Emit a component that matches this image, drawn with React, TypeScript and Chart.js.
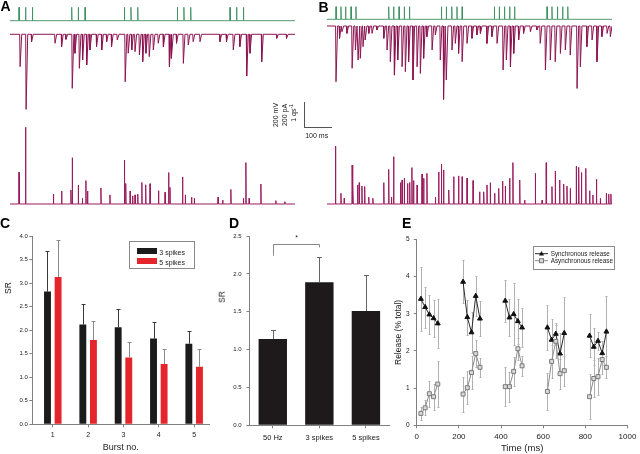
import React, { useEffect, useRef } from 'react';
import { Chart, registerables } from 'chart.js';
Chart.register(...registerables);

const FONT = "'Liberation Sans', Arial, Helvetica, sans-serif";
const AXIS = '#808080';
const TEXT = '#1a1a1a';
const GREEN = '#3f9162';
const PURPLE = '#8c1552';
const PINK = '#9a1b5e';

// ---------- Panels A / B : traces (time in ms, 0..TRACE_END) ----------
const TRACE_END = 1044;

const A_AP_TIMES = [33, 57, 82, 226, 250, 275, 419, 443, 468, 613, 637, 662, 806, 830, 855];
const A_AP_PEAK_MV = 103;
const A_EPSC_TIMES = [37, 59, 79, 165, 189, 205, 228, 238, 254, 266, 281, 293, 317, 336, 354, 372, 393, 422, 433, 446, 458, 474, 486, 498, 510, 525, 543, 562, 584, 592, 610, 635, 653, 671, 696, 769, 793, 818, 842, 867, 879, 922, 977, 1013];
const A_EPSC_PA = [-249, -578, -57, -69, -95, -39, -416, -146, -262, -198, -236, -121, -95, -121, -57, -95, -44, -365, -146, -121, -134, -159, -211, -146, -172, -121, -69, -95, -249, -185, -69, -224, -82, -57, -57, -57, -57, -121, -95, -321, -146, -211, -31, -31];
const A_RATE_TIMES = [33, 57, 159, 189, 223, 228, 250, 265, 278, 284, 333, 366, 419, 424, 440, 449, 458, 468, 483, 497, 513, 544, 568, 581, 586, 632, 642, 665, 675, 762, 779, 809, 855, 864, 876, 919, 974, 1007];
const A_RATE_QS = [1.22, 2.95, 0.38, 0.5, 0.54, 1.78, 0.73, 0.22, 0.9, 0.5, 0.62, 0.35, 1.69, 0.79, 0.5, 0.31, 0.35, 0.38, 0.83, 0.74, 0.78, 0.51, 0.45, 1.21, 0.64, 1.04, 0.35, 0.26, 0.22, 0.26, 0.15, 0.56, 0.22, 1.59, 0.22, 0.77, 0.13, 0.09];

const B_AP_TIMES = [33, 51, 68, 88, 106, 226, 244, 264, 283, 302, 419, 437, 457, 476, 495, 613, 631, 650, 669, 687, 806, 824, 844, 863, 882];
const B_AP_PEAK_MV = 97;
const B_EPSC_TIMES = [33, 46, 55, 73, 92, 104, 114, 122, 132, 140, 153, 165, 183, 208, 220, 232, 247, 259, 275, 287, 299, 315, 330, 342, 354, 366, 385, 397, 415, 427, 437, 458, 470, 482, 495, 513, 531, 549, 562, 586, 604, 623, 645, 657, 672, 684, 702, 720, 745, 769, 781, 800, 818, 836, 855, 873, 891, 916, 928, 952, 971, 989, 1007, 1026, 1038];
const B_EPSC_PA = [-429, -95, -44, -57, -326, -185, -262, -249, -159, -108, -57, -57, -31, -95, -185, -275, -378, -262, -314, -352, -275, -416, -314, -365, -249, -82, -185, -69, -262, -565, -416, -185, -134, -211, -275, -134, -95, -69, -57, -134, -82, -134, -339, -262, -314, -211, -108, -57, -44, -31, -134, -339, -262, -275, -211, -185, -224, -481, -314, -159, -108, -275, -82, -57, -82];
const B_RATE_TIMES = [31, 51, 63, 92, 95, 112, 118, 128, 138, 153, 168, 208, 226, 236, 244, 269, 275, 283, 295, 303, 311, 317, 330, 348, 354, 366, 397, 409, 419, 427, 446, 464, 482, 495, 513, 535, 559, 574, 586, 598, 614, 629, 643, 653, 669, 681, 706, 724, 763, 788, 803, 824, 836, 852, 867, 879, 891, 913, 922, 932, 948, 962, 974, 987, 1001, 1023, 1032, 1040];
const B_RATE_QS = [2.23, 0.41, 0.22, 1.5, 0.79, 0.73, 0.82, 0.69, 0.67, 0.26, 0.22, 0.82, 1.33, 0.26, 1.82, 0.82, 0.92, 0.99, 0.79, 0.83, 1.4, 0.9, 0.73, 1.15, 0.99, 1.18, 0.26, 1.23, 1.53, 1.31, 0.54, 1.05, 1.08, 1.05, 0.99, 0.9, 0.47, 0.47, 0.73, 0.82, 0.41, 0.6, 0.88, 0.69, 0.99, 1.59, 0.92, 0.15, 1.18, 0.15, 1.59, 0.67, 1.27, 0.92, 0.77, 0.69, 0.6, 1.46, 1.41, 1.21, 1.37, 0.51, 0.35, 0.95, 0.22, 0.41, 0.38, 0.38];

// ---------- Panel C ----------
const C_BURSTS = [1, 2, 3, 4, 5];
const C_SR_3 = [2.82, 2.12, 2.06, 1.82, 1.71];
const C_SR_3_ERR = [0.86, 0.43, 0.38, 0.36, 0.27];
const C_SR_5 = [3.13, 1.79, 1.42, 1.28, 1.22];
const C_SR_5_ERR = [0.79, 0.41, 0.33, 0.32, 0.37];

// ---------- Panel D ----------
const D_LABELS = ['50 Hz', '3 spikes', '5 spikes'];
const D_SR = [1.14, 1.89, 1.51];
const D_SR_ERR = [0.12, 0.33, 0.48];

// ---------- Panel E ----------
const E_BURST_LEN = 5;
const E_TIME = [20, 40, 60, 80, 100, 220, 240, 260, 280, 300, 420, 440, 460, 480, 500, 620, 640, 660, 680, 700, 820, 840, 860, 880, 900];
const E_SYNC = [3.4, 3.18, 2.98, 2.88, 2.74, 3.86, 2.91, 2.5, 3.48, 2.87, 3.35, 2.9, 2.99, 2.8, 2.63, 2.63, 2.3, 2.46, 1.93, 2.48, 2.41, 2.11, 2.27, 1.94, 2.52];
const E_SYNC_SEM = [0.85, 0.55, 0.52, 0.5, 0.67, 0.58, 0.47, 0.56, 0.55, 0.47, 0.56, 0.5, 0.83, 0.6, 0.53, 0.6, 0.55, 0.3, 0.55, 0.97, 0.58, 0.5, 0.25, 0.32, 0.97];
const E_ASYNC = [0.32, 0.47, 0.85, 0.77, 1.11, 0.84, 1.01, 1.42, 1.93, 1.56, 1.04, 1.04, 1.45, 2.06, 1.6, 0.91, 1.72, 2.26, 1.39, 1.47, 0.77, 1.26, 1.31, 1.77, 1.56];
const E_ASYNC_SEM = [0.17, 0.2, 0.35, 0.35, 0.63, 0.47, 0.45, 0.45, 0.36, 0.25, 0.52, 0.4, 0.4, 0.3, 0.27, 0.5, 0.45, 0.45, 0.4, 0.4, 0.6, 0.5, 0.5, 0.4, 0.3];

type Pt = { x: number; y: number };

function eventTrace(times: number[], peaks: number[], rise: number, fall: number): Pt[] {
  const pts: Pt[] = [{ x: 0, y: 0 }];
  times.forEach((t, i) => {
    pts.push({ x: t - rise, y: 0 }, { x: t, y: peaks[i] }, { x: t + fall, y: 0 });
  });
  pts.push({ x: TRACE_END, y: 0 });
  return pts;
}

function drawErrorBars(chart: any, phase: string) {
  const ctx = chart.ctx;
  chart.data.datasets.forEach((ds: any, di: number) => {
    const eb = ds.errorBars;
    if (!eb || eb.phase !== phase) return;
    const meta = chart.getDatasetMeta(di);
    const ys = chart.scales[meta.yAxisID];
    ctx.save();
    ctx.strokeStyle = eb.color;
    ctx.lineWidth = 1;
    meta.data.forEach((el: any, i: number) => {
      const d = ds.data[i];
      const v = typeof d === 'number' ? d : d.y;
      const err = eb.values[i];
      const x = Math.round(el.x) + 0.5;
      const yHi = Math.round(ys.getPixelForValue(v + err)) + 0.5;
      const yLo = eb.mode === 'both' ? Math.round(ys.getPixelForValue(v - err)) + 0.5 : ys.getPixelForValue(v);
      const c = eb.cap / 2;
      ctx.beginPath();
      ctx.moveTo(x, yLo);
      ctx.lineTo(x, yHi);
      ctx.moveTo(x - c, yHi);
      ctx.lineTo(x + c, yHi);
      if (eb.mode === 'both') {
        ctx.moveTo(x - c, yLo);
        ctx.lineTo(x + c, yLo);
      }
      ctx.stroke();
    });
    ctx.restore();
  });
}

const errorBarsPlugin = {
  id: 'errorBars',
  beforeDatasetsDraw(chart: any) { drawErrorBars(chart, 'before'); },
  afterDatasetsDraw(chart: any) { drawErrorBars(chart, 'after'); },
};

const bracketPlugin = {
  id: 'sigBracket',
  afterDatasetsDraw(chart: any, _args: any, opts: any) {
    if (!opts || opts.from === undefined) return;
    const ctx = chart.ctx;
    const xs = chart.scales.x;
    const ys = chart.scales.y;
    const x0 = Math.round(xs.getPixelForValue(opts.from)) + 0.5;
    const x1 = Math.round(xs.getPixelForValue(opts.to)) + 0.5;
    const yT = Math.round(ys.getPixelForValue(opts.level)) + 0.5;
    ctx.save();
    ctx.strokeStyle = opts.color;
    ctx.lineWidth = 1;
    ctx.beginPath();
    ctx.moveTo(x0, ys.getPixelForValue(opts.leftEnd));
    ctx.lineTo(x0, yT);
    ctx.lineTo(x1, yT);
    ctx.lineTo(x1, ys.getPixelForValue(opts.rightEnd));
    ctx.stroke();
    ctx.fillStyle = TEXT;
    ctx.font = `${opts.fontSize}px ${FONT}`;
    ctx.textAlign = 'center';
    ctx.textBaseline = 'middle';
    ctx.fillText(opts.label, (x0 + x1) / 2, ys.getPixelForValue(opts.labelLevel));
    ctx.restore();
  },
};

function ChartCanvas(props: { left: number; top: number; width: number; height: number; make: () => any }) {
  const ref = useRef<HTMLCanvasElement>(null);
  useEffect(() => {
    const chart = new Chart(ref.current as HTMLCanvasElement, props.make());
    return () => chart.destroy();
  }, []);
  return (
    <canvas
      ref={ref}
      width={props.width}
      height={props.height}
      style={{ position: 'absolute', left: props.left, top: props.top, width: props.width, height: props.height }}
    />
  );
}

function traceConfig(data: Pt[], color: string, yMin: number, yMax: number, lw: number) {
  return {
    type: 'line',
    data: { datasets: [{ data, borderColor: color, borderWidth: lw, pointRadius: 0, tension: 0, fill: false, clip: false }] },
    options: {
      responsive: false,
      animation: false,
      events: [],
      layout: { padding: 0 },
      plugins: { legend: { display: false }, tooltip: { enabled: false } },
      scales: {
        x: { type: 'linear', display: false, min: 0, max: TRACE_END },
        y: { type: 'linear', display: false, min: yMin, max: yMax },
      },
    },
  };
}

function axisCommon(tickSize: number, pad: number) {
  return {
    border: { display: true, color: AXIS, width: 1 },
    grid: { display: true, drawOnChartArea: false, drawTicks: true, tickLength: 3, color: AXIS, offset: false },
    ticks: { font: { family: FONT, size: tickSize }, color: TEXT, padding: pad, maxRotation: 0, autoSkip: false },
  };
}

function configC() {
  const x = axisCommon(7, 4);
  const y = axisCommon(6, 1.5);
  return {
    type: 'bar',
    data: {
      datasets: [
        {
          label: '3 spikes',
          data: C_BURSTS.map((b, i) => ({ x: b, y: C_SR_3[i] })),
          backgroundColor: '#1b1b1b',
          categoryPercentage: 0.6,
          barPercentage: 0.65,
          errorBars: { values: C_SR_3_ERR, color: '#3a3a3a', mode: 'up', cap: 4, phase: 'after' },
        },
        {
          label: '5 spikes',
          data: C_BURSTS.map((b, i) => ({ x: b, y: C_SR_5[i] })),
          backgroundColor: '#e4252b',
          categoryPercentage: 0.6,
          barPercentage: 0.65,
          errorBars: { values: C_SR_5_ERR, color: '#8a8a8a', mode: 'up', cap: 4, phase: 'after' },
        },
      ],
    },
    options: {
      responsive: false,
      animation: false,
      events: [],
      layout: { padding: { left: 0, right: 6, top: 10, bottom: 0 } },
      plugins: { legend: { display: false }, tooltip: { enabled: false } },
      scales: {
        x: {
          ...x,
          type: 'linear',
          min: 0.42,
          max: 5.42,
          offset: false,
          afterBuildTicks: (s: any) => { s.ticks = C_BURSTS.map((v) => ({ value: v })); },
          afterFit: (s: any) => { s.height = 29.7; },
          ticks: { ...x.ticks, callback: (v: any) => String(v) },
          title: { display: true, text: 'Burst no.', font: { family: FONT, size: 9 }, color: TEXT, padding: { top: 0, bottom: 1.3 } },
        },
        y: {
          ...y,
          type: 'linear',
          min: 0,
          max: 4,
          afterFit: (s: any) => { s.width = 32.3; },
          ticks: { ...y.ticks, stepSize: 0.5, callback: (v: any) => Number(v).toFixed(1) },
        },
      },
    },
    plugins: [errorBarsPlugin],
  };
}

function configD() {
  const x = axisCommon(7.5, 5);
  const y = axisCommon(6, 5);
  return {
    type: 'bar',
    data: {
      labels: D_LABELS,
      datasets: [
        {
          data: D_SR,
          backgroundColor: '#1e1a1b',
          categoryPercentage: 1,
          barPercentage: 0.61,
          errorBars: { values: D_SR_ERR, color: '#666', mode: 'up', cap: 5, phase: 'after' },
        },
      ],
    },
    options: {
      responsive: false,
      animation: false,
      events: [],
      layout: { padding: { left: 0, right: 15.8, top: 10, bottom: 0 } },
      plugins: {
        legend: { display: false },
        tooltip: { enabled: false },
        sigBracket: { from: 0, to: 1, level: 2.4, leftEnd: 2.24, rightEnd: 2.35, label: '*', labelLevel: 2.47, color: '#888', fontSize: 7 },
      },
      scales: {
        x: { ...x, type: 'category', offset: true, afterFit: (s: any) => { s.height = 28.7; } },
        y: {
          ...y,
          type: 'linear',
          min: 0,
          max: 2.5,
          afterFit: (s: any) => { s.width = 39.5; },
          ticks: { ...y.ticks, stepSize: 0.5, callback: (v: any) => Number(v).toFixed(1) },
        },
      },
    },
    plugins: [errorBarsPlugin, bracketPlugin],
  };
}

function configE() {
  const x = axisCommon(8, 3.6);
  const y = axisCommon(6.5, 4.2);
  const datasets: any[] = [];
  for (let g = 0; g < E_TIME.length / E_BURST_LEN; g++) {
    const s = g * E_BURST_LEN;
    const idx = E_TIME.slice(s, s + E_BURST_LEN).map((_, k) => s + k);
    datasets.push({
      data: idx.map((i) => ({ x: E_TIME[i], y: E_ASYNC[i] })),
      borderColor: '#8c8c8c',
      borderWidth: 1,
      pointStyle: 'rect',
      pointRadius: 2.8,
      pointBackgroundColor: '#d9d9d9',
      pointBorderColor: '#7a7a7a',
      pointBorderWidth: 1,
      tension: 0,
      errorBars: { values: idx.map((i) => E_ASYNC_SEM[i]), color: '#b0b0b0', mode: 'both', cap: 2, phase: 'before' },
    });
    datasets.push({
      data: idx.map((i) => ({ x: E_TIME[i], y: E_SYNC[i] })),
      borderColor: '#2a2a2a',
      borderWidth: 1,
      pointStyle: 'triangle',
      pointRadius: 2.8,
      pointBackgroundColor: '#111',
      pointBorderColor: '#111',
      pointBorderWidth: 1,
      tension: 0,
      errorBars: { values: idx.map((i) => E_SYNC_SEM[i]), color: '#b0b0b0', mode: 'both', cap: 2, phase: 'before' },
    });
  }
  return {
    type: 'line',
    data: { datasets },
    options: {
      responsive: false,
      animation: false,
      events: [],
      layout: { padding: { left: 0, right: 10, top: 13.5, bottom: 0 } },
      plugins: { legend: { display: false }, tooltip: { enabled: false } },
      scales: {
        x: {
          ...x,
          type: 'linear',
          min: 0,
          max: 1000,
          afterFit: (s: any) => { s.height = 28.7; },
          ticks: { ...x.ticks, stepSize: 200, callback: (v: any) => String(v) },
          title: { display: true, text: 'Time (ms)', font: { family: FONT, size: 9.5 }, color: TEXT, padding: { top: 0, bottom: 0 } },
        },
        y: {
          ...y,
          type: 'linear',
          min: 0,
          max: 5,
          afterFit: (s: any) => { s.width = 26.7; },
          ticks: { ...y.ticks, stepSize: 1, callback: (v: any) => String(v) },
          title: { display: true, text: 'Release (% total)', font: { family: FONT, size: 8.5 }, color: TEXT, padding: { top: 3.9, bottom: 0 } },
        },
      },
    },
    plugins: [errorBarsPlugin],
  };
}

function Txt(props: { x: number; y: number; size: number; bold?: boolean; children: any; rotate?: boolean; anchor?: 'left' | 'center' }) {
  const style: any = {
    position: 'absolute',
    left: props.x,
    top: props.y,
    fontSize: props.size,
    lineHeight: 1,
    fontWeight: props.bold ? 'bold' : 'normal',
    whiteSpace: 'nowrap',
    fontFamily: FONT,
    color: TEXT,
  };
  if (props.rotate) style.transform = 'translate(-50%, -50%) rotate(-90deg)';
  else if (props.anchor === 'center') style.transform = 'translate(-50%, -50%)';
  else style.transform = 'translateY(-50%)';
  return <div style={style}>{props.children}</div>;
}

function PanelLetter(props: { x: number; y: number; children: any }) {
  return (
    <div style={{ position: 'absolute', left: props.x, top: props.y, fontSize: 14, lineHeight: 1, fontWeight: 'bold', fontFamily: FONT, color: '#000' }}>
      {props.children}
    </div>
  );
}

export default function App() {
  return (
    <div style={{ position: 'fixed', left: 0, top: 0, width: 640, height: 454, background: '#fff', overflow: 'hidden', fontFamily: FONT }}>
      {/* A traces */}
      <ChartCanvas left={10} top={4} width={285} height={20} make={() => traceConfig(eventTrace(A_AP_TIMES, A_AP_TIMES.map(() => A_AP_PEAK_MV), 0.8, 1.2), GREEN, -25.4, 128.6, 0.9)} />
      <ChartCanvas left={10} top={30} width={285} height={82} make={() => traceConfig(eventTrace(A_EPSC_TIMES, A_EPSC_PA, 1.5, 6), PURPLE, -598, 33, 1)} />
      <ChartCanvas left={10} top={120} width={285} height={88} make={() => traceConfig(eventTrace(A_RATE_TIMES, A_RATE_QS, 0.8, 1.2), PINK, -0.154, 3.23, 1)} />
      {/* B traces */}
      <ChartCanvas left={326.7} top={3} width={285} height={20} make={() => traceConfig(eventTrace(B_AP_TIMES, B_AP_TIMES.map(() => B_AP_PEAK_MV), 0.8, 1.2), GREEN, -28.5, 125.5, 0.9)} />
      <ChartCanvas left={326.7} top={22} width={285} height={82} make={() => traceConfig(eventTrace(B_EPSC_TIMES, B_EPSC_PA, 1.5, 6), PURPLE, -600.6, 30.8, 1)} />
      <ChartCanvas left={326.7} top={120} width={285} height={88} make={() => traceConfig(eventTrace(B_RATE_TIMES, B_RATE_QS, 0.8, 1.2), PINK, -0.154, 3.23, 1)} />

      {/* scale bar */}
      <div style={{ position: 'absolute', left: 304, top: 101.7, width: 0, height: 26, borderLeft: '1px solid #555' }} />
      <div style={{ position: 'absolute', left: 304, top: 127.2, width: 27.5, height: 0, borderTop: '1px solid #555' }} />
      <Txt x={316.7} y={135} size={7} anchor="center">100 ms</Txt>
      <Txt x={275} y={114.5} size={7} rotate>200 mV</Txt>
      <Txt x={283.5} y={114.5} size={7} rotate>200 pA</Txt>
      <Txt x={292.5} y={113} size={7} rotate>
        <span>1 qs</span>
        <span style={{ fontSize: 5, verticalAlign: 'super' }}>-1</span>
      </Txt>

      {/* C */}
      <ChartCanvas left={0} top={226} width={215} height={228} make={configC} />
      <Txt x={8.3} y={288.3} size={8.5} rotate>SR</Txt>
      <div style={{ position: 'absolute', left: 129.3, top: 241, width: 64, height: 25.7, border: '1px solid #8a8a8a' }} />
      <div style={{ position: 'absolute', left: 136.7, top: 248.3, width: 20, height: 6, background: '#1b1b1b' }} />
      <div style={{ position: 'absolute', left: 136.7, top: 258.3, width: 20, height: 6, background: '#e4252b' }} />
      <Txt x={159.3} y={251.5} size={7}>3 spikes</Txt>
      <Txt x={159.3} y={261.5} size={7}>5 spikes</Txt>

      {/* D */}
      <ChartCanvas left={210} top={226} width={195} height={228} make={configD} />
      <Txt x={221.7} y={296.7} size={8.5} rotate>SR</Txt>

      {/* E */}
      <ChartCanvas left={390} top={226} width={250} height={228} make={configE} />
      <div style={{ position: 'absolute', left: 533.3, top: 245.7, width: 79.7, height: 22.3, border: '1px solid #8a8a8a' }} />
      <svg style={{ position: 'absolute', left: 534, top: 250, width: 16, height: 14 }} width={16} height={14}>
        <line x1={1} y1={3.7} x2={14} y2={3.7} stroke="#2a2a2a" strokeWidth={1} />
        <polygon points="7.5,1 10,5.6 5,5.6" fill="#111" />
        <line x1={1} y1={10.7} x2={14} y2={10.7} stroke="#8c8c8c" strokeWidth={1} />
        <rect x={5.5} y={8.7} width={4} height={4} fill="#d9d9d9" stroke="#7a7a7a" strokeWidth={1} />
      </svg>
      <Txt x={550.7} y={253.7} size={6.3}>Synchronous release</Txt>
      <Txt x={550.7} y={260.7} size={6.3}>Asynchronous release</Txt>

      {/* panel letters */}
      <PanelLetter x={0.5} y={-0.8}>A</PanelLetter>
      <PanelLetter x={318.5} y={0}>B</PanelLetter>
      <PanelLetter x={0} y={216}>C</PanelLetter>
      <PanelLetter x={229} y={216}>D</PanelLetter>
      <PanelLetter x={402} y={216.3}>E</PanelLetter>
    </div>
  );
}
